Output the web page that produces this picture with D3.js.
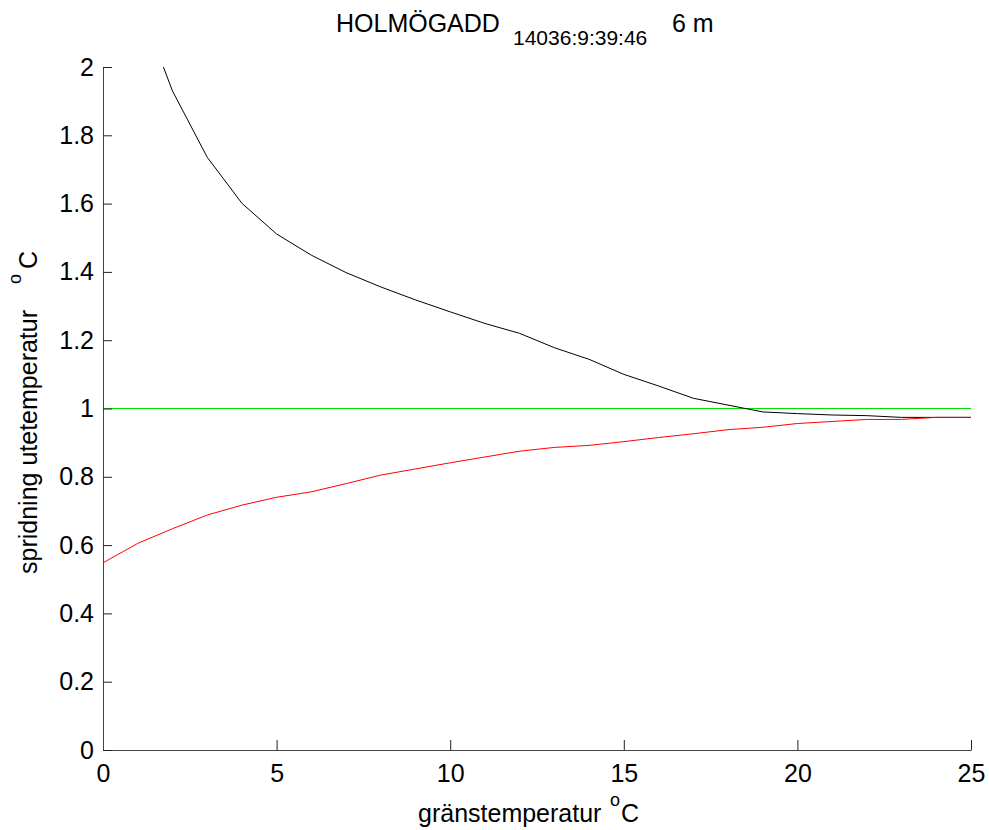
<!DOCTYPE html>
<html>
<head>
<meta charset="utf-8">
<script src="https://cdn.jsdelivr.net/npm/d3@7"></script>
<style>
  html, body { margin: 0; padding: 0; background: #fff; }
  svg { display: block; font-family: "Liberation Sans", Arial, sans-serif; }
</style>
</head>
<body>
<svg id="chart" width="989" height="830"></svg>
<script>
// ---- data ----
const blackX = [1,2,3,4,5,6,7,8,9,10,11,12,13,14,15,16,17,18,19,20,21,22,23,24,25];
const blackY = [2.20,1.93,1.736,1.601,1.511,1.449,1.398,1.356,1.318,1.283,1.249,1.220,1.178,1.144,1.100,1.066,1.030,1.010,0.990,0.985,0.981,0.979,0.974,0.974,0.974];
const redX = [0,1,2,3,4,5,6,7,8,9,10,11,12,13,14,15,16,17,18,19,20,21,22,23,24,25];
const redY = [0.548,0.605,0.648,0.688,0.717,0.740,0.756,0.780,0.805,0.823,0.841,0.858,0.875,0.886,0.892,0.903,0.915,0.926,0.938,0.945,0.956,0.962,0.968,0.968,0.974,0.974];
const greenX = [0,25];
const greenY = [1,1];
const xTicks = [0,5,10,15,20,25];
const yTicks = [0,0.2,0.4,0.6,0.8,1,1.2,1.4,1.6,1.8,2];
const yTickLabels = ["0","0.2","0.4","0.6","0.8","1","1.2","1.4","1.6","1.8","2"];

// ---- layout ----
const L = 103, R = 971, T = 67, B = 750;
const svg = d3.select("#chart");
const x = d3.scaleLinear().domain([0,25]).range([L,R]);
const y = d3.scaleLinear().domain([0,2]).range([B,T]);

svg.append("defs").append("clipPath").attr("id","clip")
  .append("rect").attr("x",L).attr("y",T).attr("width",R-L).attr("height",B-T);

const line = d3.line().x(d => x(d[0])).y(d => y(d[1]));
const plot = svg.append("g").attr("clip-path","url(#clip)");

plot.append("path").datum(greenX.map((v,i)=>[v,greenY[i]]))
  .attr("d",line).attr("fill","none").attr("stroke","#00e000").attr("stroke-width",1);
plot.append("path").datum(blackX.map((v,i)=>[v,blackY[i]]))
  .attr("d",line).attr("fill","none").attr("stroke","#000").attr("stroke-width",1);
plot.append("path").datum(redX.map((v,i)=>[v,redY[i]]))
  .attr("d",line).attr("fill","none").attr("stroke","#ff0000").attr("stroke-width",1);

// axes (ticks inward)
const xAxis = d3.axisBottom(x).tickValues(xTicks).tickSizeInner(-10).tickSizeOuter(0).tickPadding(14);
const yAxis = d3.axisLeft(y).tickValues(yTicks).tickFormat((d,i)=>yTickLabels[i]).tickSizeInner(-9).tickSizeOuter(0).tickPadding(9);

const gx = svg.append("g").attr("transform",`translate(0,${B})`).call(xAxis);
const gy = svg.append("g").attr("transform",`translate(${L},0)`).call(yAxis);
[gx,gy].forEach(g => {
  g.select(".domain").attr("stroke","#444").attr("stroke-width",1);
  g.selectAll(".tick line").attr("stroke","#222");
  g.selectAll(".tick text").attr("font-size",25).attr("fill","#000")
    .attr("font-family","'Liberation Sans', Arial, sans-serif");
});
gx.selectAll(".tick text").attr("dy","0.71em");

// title
const title = svg.append("text").attr("font-size",25).attr("fill","#000");
title.append("tspan").attr("x",336).attr("y",32).text("HOLMÖGADD");
title.append("tspan").attr("x",513).attr("y",45).attr("font-size",21).text("14036:9:39:46");
title.append("tspan").attr("x",672).attr("y",32).text("6 m");

// x label
const xl = svg.append("text").attr("font-size",25).attr("fill","#000");
xl.append("tspan").attr("x",418).attr("y",822).text("gränstemperatur");
xl.append("tspan").attr("x",610).attr("y",806).attr("font-size",18).text("o");
xl.append("tspan").attr("x",621).attr("y",822).text("C");

// y label
const yl = svg.append("g").attr("transform","translate(37,0) rotate(-90)");
const ylt = yl.append("text").attr("font-size",25).attr("fill","#000");
ylt.append("tspan").attr("x",-574).attr("y",0).text("spridning utetemperatur");
ylt.append("tspan").attr("x",-284).attr("y",-16).attr("font-size",18).text("o");
ylt.append("tspan").attr("x",-269).attr("y",0).text("C");
</script>
</body>
</html>
